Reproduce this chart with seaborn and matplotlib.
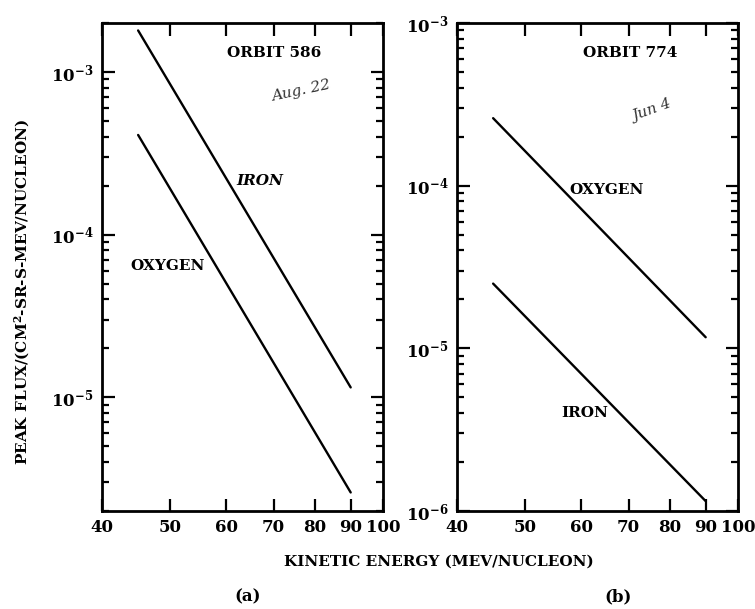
import math
import matplotlib
matplotlib.use("Agg")
import matplotlib.pyplot as plt
import matplotlib.ticker as mticker
import seaborn as sns
import pandas as pd

# Fitted power-law spectra, evaluated at the end points of the energy range
energy_a = [45, 90]
iron_a = [1.8e-3, 1.15e-5]
oxygen_a = [4.1e-4, 2.6e-6]

energy_b = [45, 90]
oxygen_b = [2.6e-4, 1.17e-5]
iron_b = [2.5e-5, 1.15e-6]

x_ticks = [40, 50, 60, 70, 80, 90, 100]
x_tick_labels = ["40", "50", "60", "70", "80", "90", "100"]

sns.set_style("ticks")
plt.rcParams["font.family"] = ["DejaVu Serif"]
plt.rcParams["font.weight"] = "bold"
plt.rcParams["mathtext.fontset"] = "dejavuserif"
plt.rcParams["mathtext.default"] = "bf"
plt.rcParams["text.color"] = "black"
plt.rcParams["axes.edgecolor"] = "black"
plt.rcParams["xtick.color"] = "black"
plt.rcParams["ytick.color"] = "black"
plt.rcParams["axes.labelcolor"] = "black"

fig = plt.figure(figsize=(7.55, 6.09), dpi=100)
ax_a = fig.add_axes([102 / 755, 1 - 511 / 609, 281 / 755, 488 / 609])
ax_b = fig.add_axes([457 / 755, 1 - 511 / 609, 281 / 755, 488 / 609])


def draw_panel(ax, energy, series, ylim, yticks):
    for vals in series:
        df = pd.DataFrame({"energy": energy, "flux": vals})
        sns.lineplot(data=df, x="energy", y="flux", ax=ax, color="black",
                     linewidth=1.7, legend=False)
    ax.set_xscale("log")
    ax.set_yscale("log")
    ax.set_xlim(40, 100)
    ax.set_ylim(*ylim)
    ax.xaxis.set_major_locator(mticker.FixedLocator(x_ticks))
    ax.xaxis.set_major_formatter(mticker.FixedFormatter(x_tick_labels))
    ax.xaxis.set_minor_locator(mticker.NullLocator())
    ax.yaxis.set_major_locator(mticker.FixedLocator(yticks))
    ax.yaxis.set_major_formatter(mticker.FixedFormatter(
        [r"$10^{%d}$" % round(math.log10(t)) for t in yticks]))
    ax.yaxis.set_minor_locator(mticker.LogLocator(base=10, subs=range(2, 10)))
    ax.yaxis.set_minor_formatter(mticker.NullFormatter())
    ax.tick_params(which="both", direction="in", top=True, right=True,
                   width=1.6, labelsize=12, pad=6, colors="black")
    ax.tick_params(which="major", length=9)
    ax.tick_params(which="minor", length=5)
    for lab in ax.get_xticklabels() + ax.get_yticklabels():
        lab.set_fontweight("bold")
    for sp in ax.spines.values():
        sp.set_linewidth(2.0)
        sp.set_color("black")
        sp.set_visible(True)
    ax.set_xlabel("")
    ax.set_ylabel("")


draw_panel(ax_a, energy_a, [iron_a, oxygen_a], (2e-6, 2e-3), [1e-5, 1e-4, 1e-3])
draw_panel(ax_b, energy_b, [oxygen_b, iron_b], (1e-6, 1e-3), [1e-6, 1e-5, 1e-4, 1e-3])

ax_a.text(0.445, 0.939, "ORBIT 586", ha="left", va="center", fontsize=11,
          fontweight="bold", transform=ax_a.transAxes)
ax_a.text(0.562, 0.676, "IRON", ha="center", va="center", fontsize=11,
          fontweight="bold", style="italic", transform=ax_a.transAxes)
ax_a.text(0.235, 0.502, "OXYGEN", ha="center", va="center", fontsize=11,
          fontweight="bold", transform=ax_a.transAxes)
ax_a.text(0.60, 0.86, "Aug. 22", ha="left", va="center", fontsize=11,
          fontweight="light", style="italic", rotation=12, color="#333333",
          transform=ax_a.transAxes)

ax_b.text(0.448, 0.939, "ORBIT 774", ha="left", va="center", fontsize=11,
          fontweight="bold", transform=ax_b.transAxes)
ax_b.text(0.534, 0.658, "OXYGEN", ha="center", va="center", fontsize=11,
          fontweight="bold", transform=ax_b.transAxes)
ax_b.text(0.455, 0.201, "IRON", ha="center", va="center", fontsize=11,
          fontweight="bold", transform=ax_b.transAxes)
ax_b.text(0.62, 0.82, "Jun 4", ha="left", va="center", fontsize=11,
          fontweight="light", style="italic", rotation=20, color="#333333",
          transform=ax_b.transAxes)

fig.text(22 / 755, 1 - 292 / 609, r"PEAK FLUX/(CM$^{2}$-SR-S-MEV/NUCLEON)",
         rotation=90, ha="center", va="center", fontsize=11, fontweight="bold")
fig.text(439 / 755, 1 - 562 / 609, "KINETIC ENERGY (MEV/NUCLEON)",
         ha="center", va="center", fontsize=11, fontweight="bold")
fig.text(248 / 755, 1 - 597 / 609, "(a)", ha="center", va="center",
         fontsize=12, fontweight="bold")
fig.text(618 / 755, 1 - 597 / 609, "(b)", ha="center", va="center",
         fontsize=12, fontweight="bold")

fig.savefig("out.png", dpi=100, facecolor="white")
